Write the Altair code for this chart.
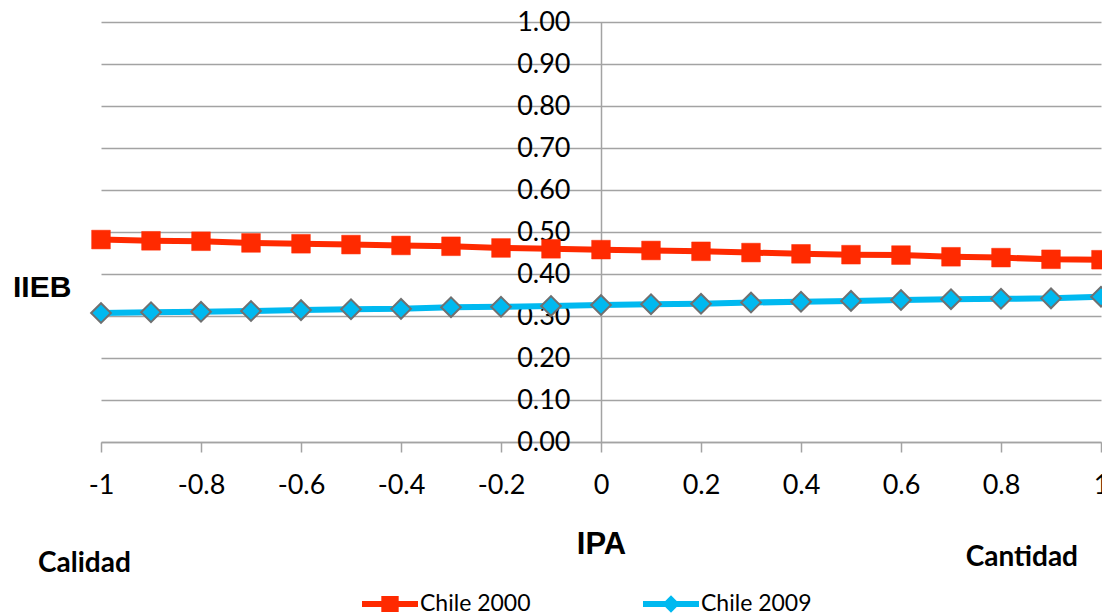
import altair as alt
import pandas as pd

ipa = [-1.0, -0.9, -0.8, -0.7, -0.6, -0.5, -0.4, -0.3, -0.2, -0.1, 0.0,
       0.1, 0.2, 0.3, 0.4, 0.5, 0.6, 0.7, 0.8, 0.9, 1.0]
chile_2000 = [0.482, 0.479, 0.478, 0.474, 0.472, 0.470, 0.468, 0.466, 0.462, 0.460, 0.458,
              0.456, 0.454, 0.451, 0.448, 0.446, 0.445, 0.441, 0.439, 0.435, 0.434]
chile_2009 = [0.307, 0.309, 0.310, 0.312, 0.314, 0.316, 0.317, 0.321, 0.322, 0.324, 0.326,
              0.328, 0.329, 0.332, 0.334, 0.336, 0.338, 0.340, 0.341, 0.342, 0.346]
series_names = ["Chile 2000", "Chile 2009"]
y_ticks = [0.0, 0.1, 0.2, 0.3, 0.4, 0.5, 0.6, 0.7, 0.8, 0.9, 1.0]
x_ticks = [-1.0, -0.8, -0.6, -0.4, -0.2, 0.0, 0.2, 0.4, 0.6, 0.8, 1.0]

RED = "#ff2a00"
BLUE = "#00b9f0"
GRAY = "#707070"
GRID = "#a3a3a3"

rows = []
for xv, a, b in zip(ipa, chile_2000, chile_2009):
    rows.append({"IPA": xv, "IIEB": a, "series": series_names[0]})
    rows.append({"IPA": xv, "IIEB": b, "series": series_names[1]})
df = pd.DataFrame(rows)

x_enc = alt.X("IPA:Q", scale=alt.Scale(domain=[-1, 1], nice=False),
              axis=alt.Axis(values=x_ticks, grid=False, domainColor=GRID, domainWidth=1.5,
                            tickColor=GRID, tickWidth=1.5, tickSize=10,
                            labelExpr="datum.value == 0 ? '0' : (datum.value < 0 ? '-' : '') + format(abs(datum.value), '~g')",
                            labelFont="Lato", labelFontSize=27, labelColor="black", labelPadding=20,
                            labelOverlap=False, labelFlush=False,
                            title="IPA", titleFont="Liberation Sans", titleFontSize=31,
                            titleFontWeight="bold", titleColor="black",
                            titleY=102, titleBaseline="middle"))
y_enc = alt.Y("IIEB:Q", scale=alt.Scale(domain=[0, 1], nice=False),
              axis=alt.Axis(values=y_ticks, format=".2f", offset=-500, grid=True,
                            gridColor=GRID, gridWidth=1.5, domainColor=GRID, domainWidth=1.5,
                            ticks=False, tickSize=0, labelPadding=31,
                            labelFont="Lato", labelFontSize=27, labelColor="black",
                            labelOverlap=False, labelFlush=False, title=None))

base = alt.Chart(df)
s2000 = base.transform_filter(alt.datum.series == series_names[0])
s2009 = base.transform_filter(alt.datum.series == series_names[1])

line_2000 = s2000.mark_line(strokeWidth=6, color=RED).encode(x=x_enc, y=y_enc)
line_2009 = s2009.mark_line(strokeWidth=6, color=BLUE).encode(x=x_enc, y=y_enc)

pts_2000 = s2000.mark_point(
    shape="square", filled=True, fill=RED, stroke=RED, strokeWidth=0.5, size=350, opacity=1
).encode(x=x_enc, y=y_enc)

pts_2009 = s2009.mark_point(
    shape="diamond", filled=True, fill=BLUE, stroke=GRAY, strokeWidth=2, size=390, opacity=1
).encode(x=x_enc, y=y_enc)

PATH_SQ = ("M-1,-0.11 L1,-0.11 L1,0.11 L-1,0.11 Z "
           "M-0.31,-0.29 L0.31,-0.29 L0.31,0.29 L-0.31,0.29 Z")
PATH_DI = ("M-1,-0.11 L1,-0.11 L1,0.11 L-1,0.11 Z "
           "M0,-0.31 L0.31,0 L0,0.31 L-0.31,0 Z")

leg = alt.Legend(orient="none", legendX=261, legendY=554, direction="horizontal",
                 title=None, labelFont="Lato", labelFontSize=23, labelColor="black",
                 symbolSize=3136, symbolStrokeWidth=0, labelOffset=2,
                 columnPadding=112, padding=0)

legend_layer = base.mark_point(filled=True, opacity=1, size=0).encode(
    x=x_enc, y=y_enc,
    color=alt.Color("series:N", scale=alt.Scale(domain=series_names, range=[RED, BLUE]), legend=leg),
    shape=alt.Shape("series:N", scale=alt.Scale(domain=series_names, range=[PATH_SQ, PATH_DI]), legend=leg),
)

iieb = alt.Chart(pd.DataFrame({"label": ["IIEB"]})).mark_text(
    align="left", baseline="middle", font="Liberation Sans",
    fontSize=30, fontWeight="bold", color="black").encode(
    x=alt.value(-88), y=alt.value(266), text="label:N")
cal = alt.Chart(pd.DataFrame({"label": ["Calidad"]})).mark_text(
    align="left", baseline="middle", font="Lato", fontSize=28, fontWeight="bold", color="black").encode(
    x=alt.value(-63), y=alt.value(542), text="label:N")
can = alt.Chart(pd.DataFrame({"label": ["Cantidad"]})).mark_text(
    align="right", baseline="middle", font="Lato", fontSize=28, fontWeight="bold", color="black").encode(
    x=alt.value(977), y=alt.value(536), text="label:N")

chart = alt.layer(legend_layer, line_2000, line_2009, pts_2000, pts_2009, iieb, cal, can).properties(
    width=1000, height=420,
    autosize=alt.AutoSizeParams(type="none"),
    padding={"left": 93, "top": 14, "right": 1, "bottom": 172},
).configure_view(stroke=None)

chart.save("out.html", embed_options={"renderer": "svg", "actions": False})
